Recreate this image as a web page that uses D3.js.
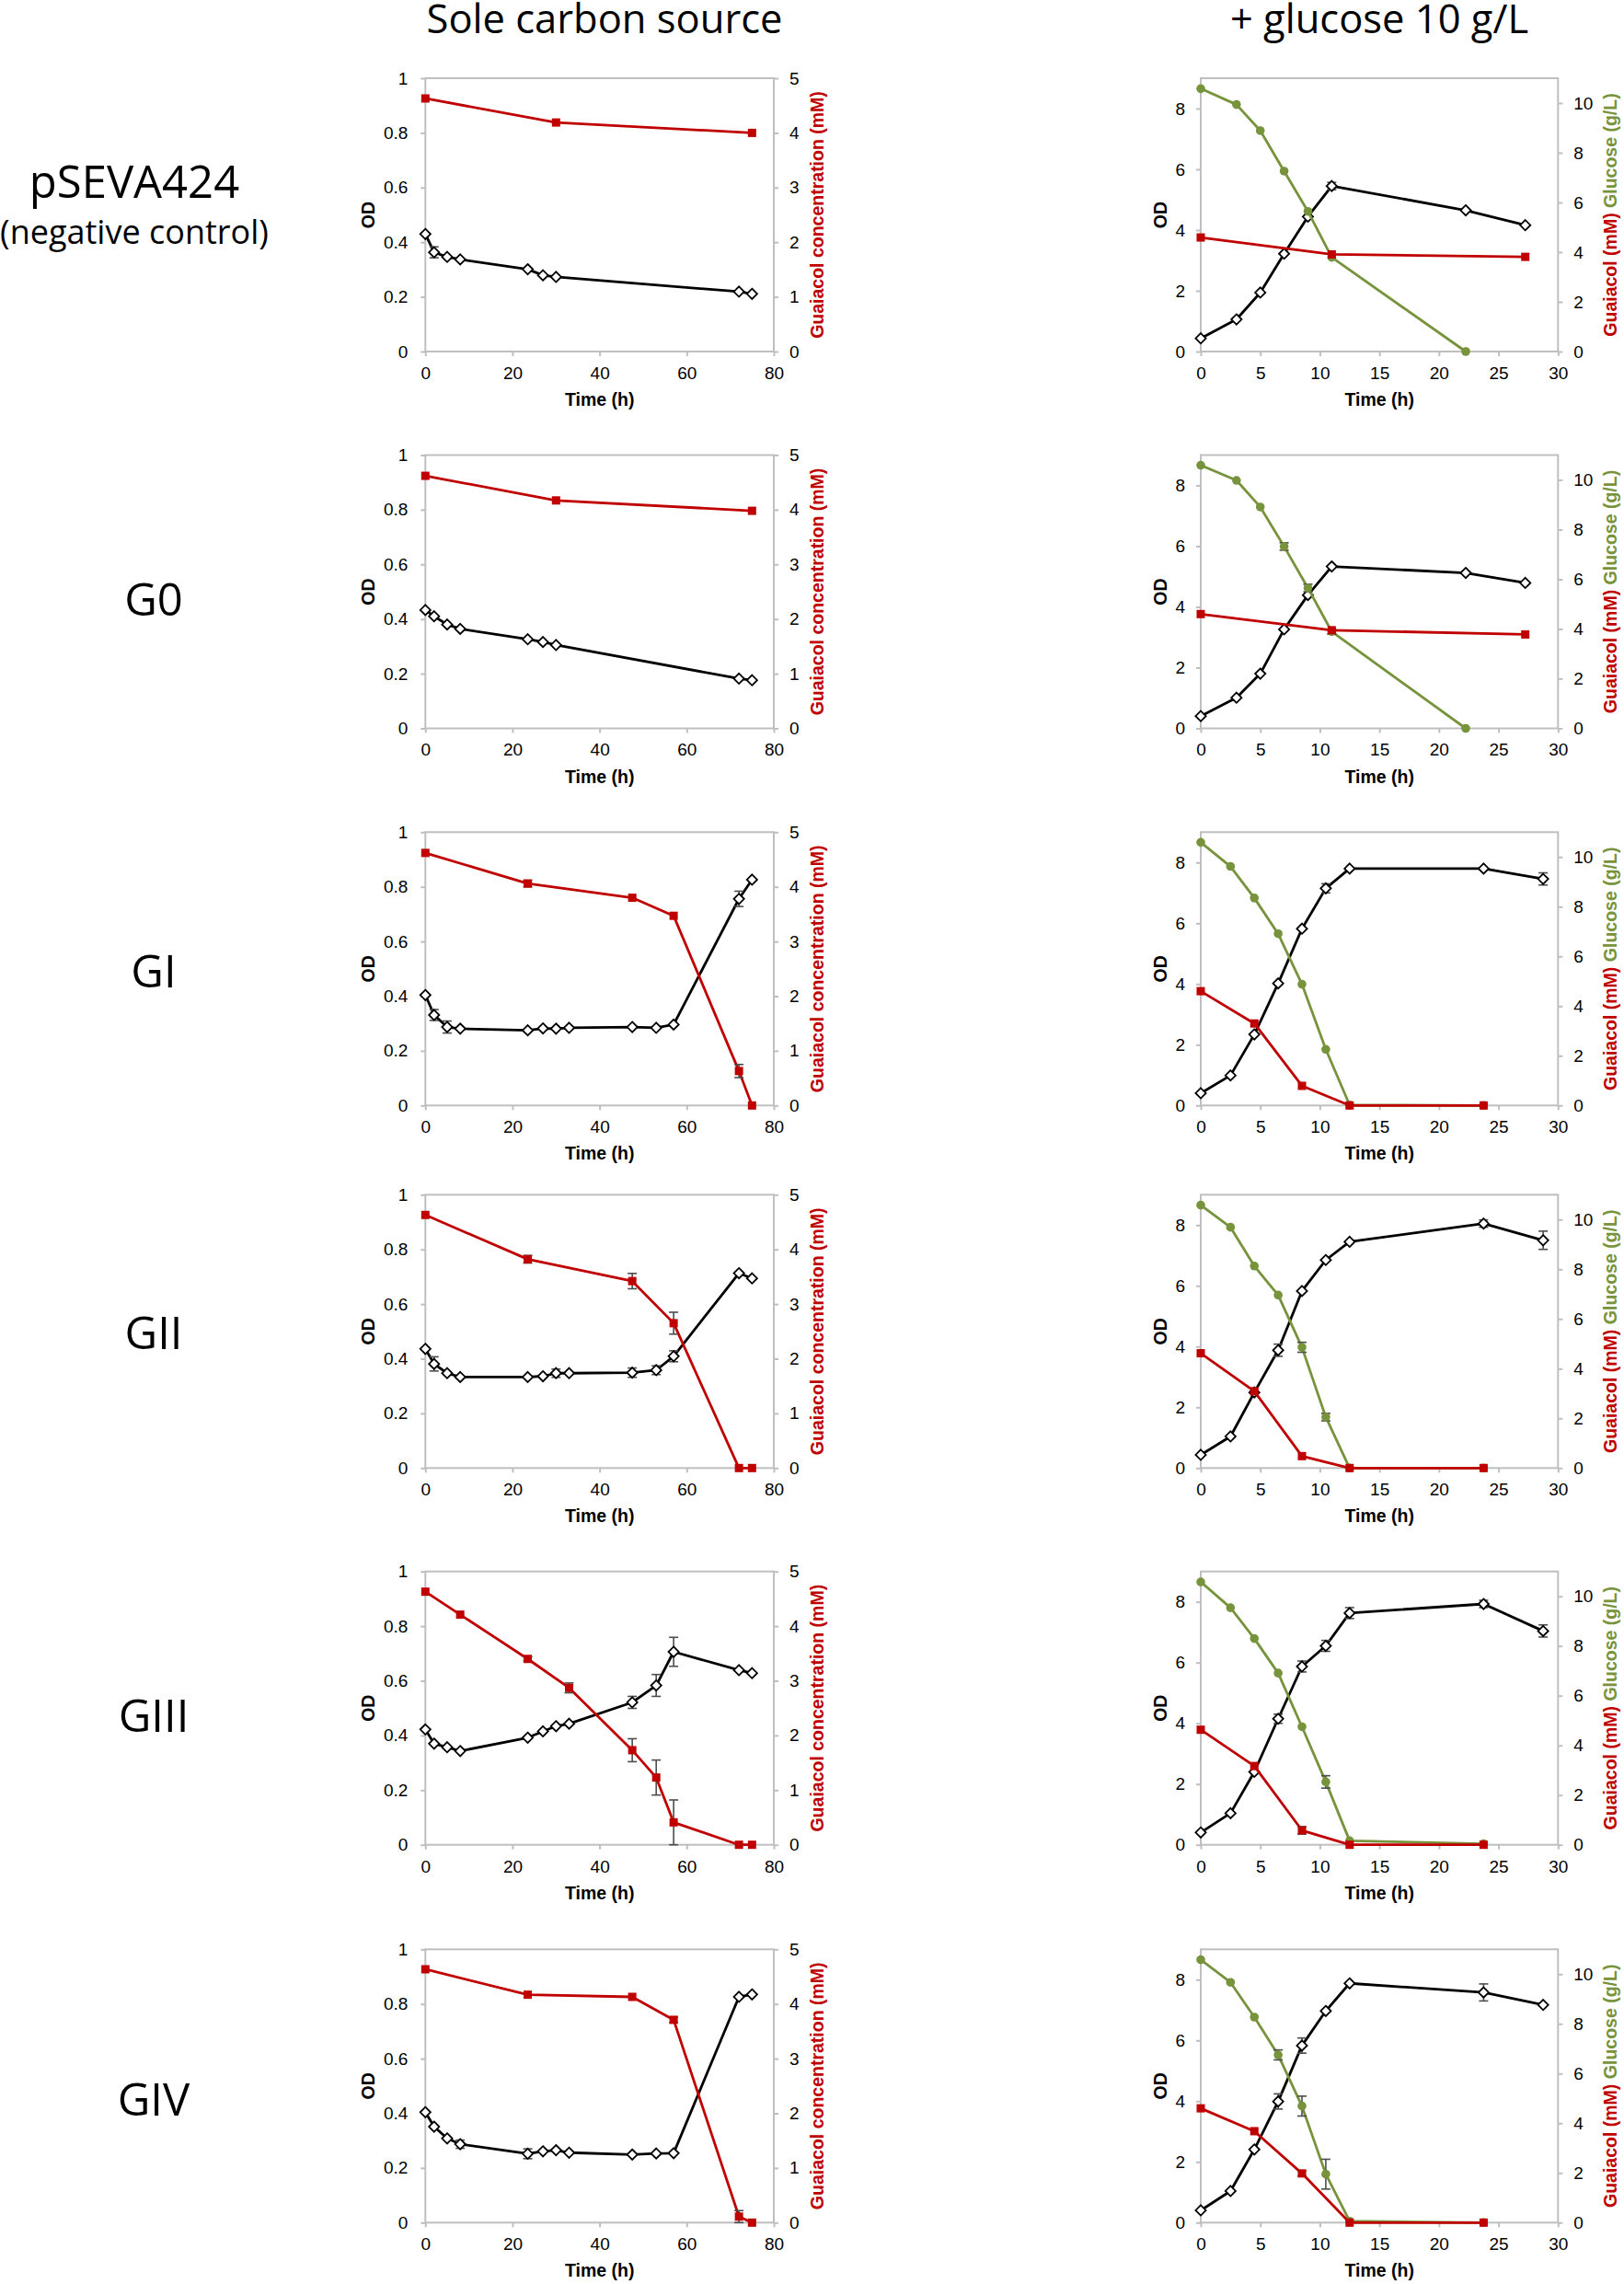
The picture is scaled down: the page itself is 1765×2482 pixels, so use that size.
<!DOCTYPE html>
<html><head><meta charset="utf-8">
<script src="https://cdn.jsdelivr.net/npm/d3@7"></script>
<style>html,body{margin:0;padding:0;background:#fff}</style>
</head><body>
<svg id="c" width="1765" height="2482" xmlns="http://www.w3.org/2000/svg"></svg>
<script>
// ---------------- DATA ----------------
const colTitles = ["Sole carbon source", "+ glucose 10 g/L"];
const rowNames = ["pSEVA424", "G0", "GI", "GII", "GIII", "GIV"];
const rowSubNames = ["(negative control)", "", "", "", "", ""];

// tick labels
const soleOdTicks = [0, 0.2, 0.4, 0.6, 0.8, 1];
const soleGuaTicks = [0, 1, 2, 3, 4, 5];
const soleTimeTicks = [0, 20, 40, 60, 80];
const gluOdTicks = [0, 2, 4, 6, 8];
const gluRightTicks = [0, 2, 4, 6, 8, 10];
const gluTimeTicks = [0, 5, 10, 15, 20, 25, 30];

// time points (h)
const tSoleOdShort = [0, 2, 5, 8, 23.5, 27, 30, 72, 75];
const tSoleOdLong = [0, 2, 5, 8, 23.5, 27, 30, 33, 47.5, 53, 57, 72, 75];
const tSoleGuaShort = [0, 30, 75];
const tSoleGuaLong = [0, 23.5, 47.5, 57, 72, 75];
const tSoleGuaGIII = [0, 8, 23.5, 33, 47.5, 53, 57, 72, 75];
const tGluOdA = [0, 3, 5, 7, 9, 11, 22.25, 27.25];
const tGluGlcA = [0, 3, 5, 7, 9, 11, 22.25];
const tGluGuaA = [0, 11, 27.25];
const tGluOdB = [0, 2.5, 4.5, 6.5, 8.5, 10.5, 12.5, 23.75, 28.75];
const tGluGlcB = [0, 2.5, 4.5, 6.5, 8.5, 10.5, 12.5, 23.75];
const tGluGuaB = [0, 4.5, 8.5, 12.5, 23.75];

// --- Sole carbon source: OD and guaiacol (mM) ---
const pseva_sole_od     = [0.430, 0.363, 0.346, 0.337, 0.301, 0.279, 0.273, 0.219, 0.211];
const pseva_sole_od_err = [0, 0.02, 0, 0, 0, 0, 0, 0, 0];
const pseva_sole_gua    = [4.63, 4.19, 4.00];

const g0_sole_od     = [0.433, 0.410, 0.380, 0.364, 0.326, 0.316, 0.305, 0.182, 0.176];
const g0_sole_od_err = [0, 0, 0, 0, 0, 0, 0, 0, 0];
const g0_sole_gua    = [4.62, 4.17, 3.98];

const gI_sole_od      = [0.404, 0.331, 0.287, 0.281, 0.275, 0.282, 0.281, 0.284, 0.287, 0.284, 0.296, 0.756, 0.826];
const gI_sole_od_err  = [0, 0.02, 0.022, 0, 0, 0, 0, 0, 0, 0, 0, 0.028, 0];
const gI_sole_gua     = [4.62, 4.06, 3.80, 3.47, 0.63, 0];
const gI_sole_gua_err = [0, 0.06, 0, 0, 0.12, 0];

const gII_sole_od      = [0.436, 0.381, 0.347, 0.333, 0.333, 0.336, 0.347, 0.347, 0.349, 0.358, 0.409, 0.713, 0.694];
const gII_sole_od_err  = [0, 0.026, 0, 0, 0, 0, 0.015, 0, 0.017, 0.016, 0.02, 0, 0];
const gII_sole_gua     = [4.63, 3.82, 3.42, 2.65, 0, 0];
const gII_sole_gua_err = [0, 0.07, 0.14, 0.2, 0, 0];

const gIII_sole_od      = [0.422, 0.370, 0.357, 0.343, 0.392, 0.415, 0.434, 0.443, 0.521, 0.583, 0.706, 0.639, 0.628];
const gIII_sole_od_err  = [0, 0, 0, 0, 0, 0, 0, 0, 0.022, 0.04, 0.053, 0, 0];
const gIII_sole_gua     = [4.63, 4.21, 3.40, 2.87, 1.73, 1.23, 0.41, 0, 0];
const gIII_sole_gua_err = [0, 0, 0.04, 0.09, 0.21, 0.32, 0.41, 0, 0];

const gIV_sole_od      = [0.404, 0.351, 0.308, 0.287, 0.252, 0.261, 0.265, 0.256, 0.249, 0.253, 0.254, 0.826, 0.835];
const gIV_sole_od_err  = [0, 0, 0, 0.015, 0.018, 0, 0, 0, 0, 0, 0, 0, 0];
const gIV_sole_gua     = [4.635, 4.17, 4.13, 3.71, 0.11, 0];
const gIV_sole_gua_err = [0, 0, 0, 0.05, 0.11, 0];

// --- + glucose 10 g/L: OD, glucose (g/L), guaiacol (mM) ---
const pseva_glu_od      = [0.434, 1.06, 1.94, 3.22, 4.44, 5.45, 4.65, 4.16];
const pseva_glu_od_err  = [0, 0, 0, 0, 0, 0.12, 0, 0];
const pseva_glu_glc     = [10.58, 9.94, 8.89, 7.26, 5.64, 3.79, 0];
const pseva_glu_glc_err = [0, 0, 0, 0, 0, 0, 0];
const pseva_glu_gua     = [4.59, 3.91, 3.81];

const g0_glu_od      = [0.404, 1.01, 1.80, 3.26, 4.39, 5.33, 5.12, 4.79];
const g0_glu_od_err  = [0, 0, 0, 0, 0, 0, 0, 0];
const g0_glu_glc     = [10.59, 9.98, 8.91, 7.32, 5.65, 3.89, 0];
const g0_glu_glc_err = [0, 0, 0, 0.15, 0.15, 0.1, 0];
const g0_glu_gua     = [4.60, 3.95, 3.78];

const gI_glu_od      = [0.404, 0.99, 2.34, 4.02, 5.82, 7.15, 7.80, 7.80, 7.46];
const gI_glu_od_err  = [0, 0, 0, 0, 0, 0.15, 0, 0, 0.2];
const gI_glu_glc     = [10.59, 9.62, 8.35, 6.91, 4.88, 2.26, 0.02, 0];
const gI_glu_glc_err = [0, 0, 0, 0, 0, 0, 0, 0];
const gI_glu_gua     = [4.60, 3.30, 0.79, 0, 0];

const gII_glu_od      = [0.435, 1.04, 2.49, 3.88, 5.83, 6.85, 7.45, 8.05, 7.50];
const gII_glu_od_err  = [0, 0, 0, 0.2, 0, 0, 0, 0.12, 0.3];
const gII_glu_glc     = [10.58, 9.69, 8.13, 6.96, 4.86, 2.05, 0, 0];
const gII_glu_glc_err = [0, 0, 0, 0, 0.2, 0.15, 0, 0];
const gII_glu_gua     = [4.62, 3.09, 0.48, 0, 0];

const gIII_glu_od      = [0.405, 1.04, 2.40, 4.15, 5.87, 6.55, 7.63, 7.93, 7.04];
const gIII_glu_od_err  = [0, 0, 0, 0.15, 0.18, 0.18, 0.18, 0.12, 0.2];
const gIII_glu_glc     = [10.58, 9.54, 8.30, 6.91, 4.75, 2.53, 0.16, 0.04];
const gIII_glu_glc_err = [0, 0, 0, 0, 0, 0.25, 0, 0];
const gIII_glu_gua     = [4.63, 3.17, 0.58, 0, 0];
const gIII_glu_gua_err = [0, 0, 0.15, 0, 0];

const gIV_glu_od      = [0.404, 1.04, 2.41, 3.99, 5.83, 6.97, 7.88, 7.58, 7.17];
const gIV_glu_od_err  = [0, 0, 0, 0.25, 0.25, 0, 0, 0.28, 0];
const gIV_glu_glc     = [10.58, 9.67, 8.27, 6.75, 4.69, 1.95, 0.06, 0];
const gIV_glu_glc_err = [0, 0, 0, 0.2, 0.4, 0.6, 0, 0];
const gIV_glu_gua     = [4.60, 3.68, 1.98, 0, 0];
const gIV_glu_gua_err = [0, 0, 0.1, 0, 0];

// ---------------- LAYOUT / STYLE ----------------
const W = 1765, H = 2482;
const ROW_TOP = [85, 494.5, 904.3, 1298.3, 1707.7, 2118.3];
const PLOT_H = 297;
const COL_X = [{x0: 462.3, x1: 841}, {x0: 1305, x1: 1693.3}];
const LABEL_BASE = [[215, 265], [669], [1073], [1466], [1882], [2299]];
const RED = "#c00000", GREEN = "#77933c", GRID = "#bfbfbf", ERR = "#4d4d4d";
const AX_FONT = "'Liberation Sans', Arial, sans-serif";
const TITLE_FONT = "'Open Sans', 'Noto Sans', sans-serif";

const zip = (t, v, e) => t.map((tt, i) => ({t: tt, v: v[i], e: e ? e[i] : 0}));

const soleRows = [
  {od: zip(tSoleOdShort, pseva_sole_od, pseva_sole_od_err), gua: zip(tSoleGuaShort, pseva_sole_gua)},
  {od: zip(tSoleOdShort, g0_sole_od, g0_sole_od_err), gua: zip(tSoleGuaShort, g0_sole_gua)},
  {od: zip(tSoleOdLong, gI_sole_od, gI_sole_od_err), gua: zip(tSoleGuaLong, gI_sole_gua, gI_sole_gua_err)},
  {od: zip(tSoleOdLong, gII_sole_od, gII_sole_od_err), gua: zip(tSoleGuaLong, gII_sole_gua, gII_sole_gua_err)},
  {od: zip(tSoleOdLong, gIII_sole_od, gIII_sole_od_err), gua: zip(tSoleGuaGIII, gIII_sole_gua, gIII_sole_gua_err)},
  {od: zip(tSoleOdLong, gIV_sole_od, gIV_sole_od_err), gua: zip(tSoleGuaLong, gIV_sole_gua, gIV_sole_gua_err)}
];
const gluRows = [
  {od: zip(tGluOdA, pseva_glu_od, pseva_glu_od_err), glc: zip(tGluGlcA, pseva_glu_glc, pseva_glu_glc_err), gua: zip(tGluGuaA, pseva_glu_gua)},
  {od: zip(tGluOdA, g0_glu_od, g0_glu_od_err), glc: zip(tGluGlcA, g0_glu_glc, g0_glu_glc_err), gua: zip(tGluGuaA, g0_glu_gua)},
  {od: zip(tGluOdB, gI_glu_od, gI_glu_od_err), glc: zip(tGluGlcB, gI_glu_glc, gI_glu_glc_err), gua: zip(tGluGuaB, gI_glu_gua)},
  {od: zip(tGluOdB, gII_glu_od, gII_glu_od_err), glc: zip(tGluGlcB, gII_glu_glc, gII_glu_glc_err), gua: zip(tGluGuaB, gII_glu_gua)},
  {od: zip(tGluOdB, gIII_glu_od, gIII_glu_od_err), glc: zip(tGluGlcB, gIII_glu_glc, gIII_glu_glc_err), gua: zip(tGluGuaB, gIII_glu_gua, gIII_glu_gua_err)},
  {od: zip(tGluOdB, gIV_glu_od, gIV_glu_od_err), glc: zip(tGluGlcB, gIV_glu_glc, gIV_glu_glc_err), gua: zip(tGluGuaB, gIV_glu_gua, gIV_glu_gua_err)}
];

// ---------------- DRAW ----------------
const svg = d3.select("#c");
svg.append("rect").attr("width", W).attr("height", H).attr("fill", "#fff");

// column titles
const colCenters = [657, 1499];
colTitles.forEach((t, i) => {
  svg.append("text").attr("x", colCenters[i]).attr("y", 36)
    .attr("text-anchor", "middle").attr("font-family", TITLE_FONT)
    .attr("font-size", 43.5).attr("fill", "#000").text(t);
});

// row labels
rowNames.forEach((n, i) => {
  const cx = i === 0 ? 146 : 167;
  svg.append("text").attr("x", cx).attr("y", LABEL_BASE[i][0])
    .attr("text-anchor", "middle").attr("font-family", TITLE_FONT)
    .attr("font-size", 49).attr("fill", "#000").text(n);
  if (rowSubNames[i]) {
    svg.append("text").attr("x", 146).attr("y", LABEL_BASE[i][1])
      .attr("text-anchor", "middle").attr("font-family", TITLE_FONT)
      .attr("font-size", 36).attr("fill", "#000").text(rowSubNames[i]);
  }
});

function styleAxis(g) {
  g.select(".domain").remove();
  g.selectAll(".tick line").attr("stroke", GRID).attr("stroke-width", 2);
  g.selectAll(".tick text").attr("font-family", AX_FONT).attr("font-size", 19).attr("fill", "#000");
}

const diamond = r => `M0,${-r}L${r},0L0,${r}L${-r},0Z`;

function drawSeries(g, data, x, y, opt) {
  const line = d3.line().x(d => x(d.t)).y(d => y(d.v));
  g.append("path").datum(data).attr("d", line)
    .attr("fill", "none").attr("stroke", opt.color).attr("stroke-width", 2.8)
    .attr("stroke-linejoin", "round");
  // error bars
  const eb = g.append("g").attr("stroke", ERR).attr("stroke-width", 1.6);
  data.filter(d => d.e > 0).forEach(d => {
    const cx = x(d.t), ya = y(d.v + d.e), yb = y(Math.max(0, d.v - d.e));
    eb.append("line").attr("x1", cx).attr("x2", cx).attr("y1", ya).attr("y2", yb);
    eb.append("line").attr("x1", cx - 5).attr("x2", cx + 5).attr("y1", ya).attr("y2", ya);
    eb.append("line").attr("x1", cx - 5).attr("x2", cx + 5).attr("y1", yb).attr("y2", yb);
  });
  const m = g.append("g");
  data.forEach(d => {
    const cx = x(d.t), cy = y(d.v);
    if (opt.marker === "diamond") {
      m.append("path").attr("d", diamond(5.6)).attr("transform", `translate(${cx},${cy})`)
        .attr("fill", "#fff").attr("stroke", "#000").attr("stroke-width", 1.8);
    } else if (opt.marker === "square") {
      m.append("rect").attr("x", cx - 4.5).attr("y", cy - 4.5).attr("width", 9).attr("height", 9)
        .attr("fill", opt.color);
    } else {
      m.append("circle").attr("cx", cx).attr("cy", cy).attr("r", 4.8).attr("fill", opt.color);
    }
  });
}

function drawFrame(g, x0, x1, top, bottom) {
  g.append("rect").attr("x", x0).attr("y", top).attr("width", x1 - x0).attr("height", bottom - top)
    .attr("fill", "none").attr("stroke", GRID).attr("stroke-width", 2);
}

function rotatedLabel(g, x, y, parts, anchor) {
  const t = g.append("text").attr("transform", `translate(${x},${y}) rotate(-90)`)
    .attr("text-anchor", anchor || "middle").attr("font-family", AX_FONT)
    .attr("font-weight", "bold").attr("font-size", 19.5);
  parts.forEach(p => t.append("tspan").attr("fill", p.c).text(p.s));
}

for (let r = 0; r < 6; r++) {
  const top = ROW_TOP[r], bottom = top + PLOT_H, cy = (top + bottom) / 2;

  // ---- left panel: sole carbon source ----
  {
    const {x0, x1} = COL_X[0];
    const g = svg.append("g");
    const x = d3.scaleLinear().domain([0, 80]).range([x0, x1]);
    const yOd = d3.scaleLinear().domain([0, 1]).range([bottom, top]);
    const yGua = d3.scaleLinear().domain([0, 5]).range([bottom, top]);
    drawFrame(g, x0, x1, top, bottom);
    g.append("g").attr("transform", `translate(${x0},0)`)
      .call(d3.axisLeft(yOd).tickValues(soleOdTicks).tickFormat(d3.format("~g")).tickSize(5).tickPadding(14).tickSizeOuter(0))
      .call(styleAxis);
    g.append("g").attr("transform", `translate(${x1},0)`)
      .call(d3.axisRight(yGua).tickValues(soleGuaTicks).tickFormat(d3.format("d")).tickSize(5).tickPadding(12).tickSizeOuter(0))
      .call(styleAxis);
    g.append("g").attr("transform", `translate(0,${bottom})`)
      .call(d3.axisBottom(x).tickValues(soleTimeTicks).tickFormat(d3.format("d")).tickSize(5).tickPadding(11.5).tickSizeOuter(0))
      .call(styleAxis);
    g.append("text").attr("x", (x0 + x1) / 2).attr("y", bottom + 59).attr("text-anchor", "middle")
      .attr("font-family", AX_FONT).attr("font-weight", "bold").attr("font-size", 19.5).text("Time (h)");
    rotatedLabel(g, x0 - 55, cy, [{s: "OD", c: "#000"}]);
    rotatedLabel(g, x1 + 54, cy, [{s: "Guaiacol concentration (mM)", c: RED}]);
    drawSeries(g, soleRows[r].od, x, yOd, {color: "#000", marker: "diamond"});
    drawSeries(g, soleRows[r].gua, x, yGua, {color: RED, marker: "square"});
  }

  // ---- right panel: + glucose ----
  {
    const {x0, x1} = COL_X[1];
    const g = svg.append("g");
    const x = d3.scaleLinear().domain([0, 30]).range([x0, x1]);
    const yOd = d3.scaleLinear().domain([0, 9]).range([bottom, top]);
    const yR = d3.scaleLinear().domain([0, 11]).range([bottom, top]);
    drawFrame(g, x0, x1, top, bottom);
    g.append("g").attr("transform", `translate(${x0},0)`)
      .call(d3.axisLeft(yOd).tickValues(gluOdTicks).tickFormat(d3.format("d")).tickSize(5).tickPadding(12).tickSizeOuter(0))
      .call(styleAxis);
    g.append("g").attr("transform", `translate(${x1},0)`)
      .call(d3.axisRight(yR).tickValues(gluRightTicks).tickFormat(d3.format("d")).tickSize(5).tickPadding(12).tickSizeOuter(0))
      .call(styleAxis);
    g.append("g").attr("transform", `translate(0,${bottom})`)
      .call(d3.axisBottom(x).tickValues(gluTimeTicks).tickFormat(d3.format("d")).tickSize(5).tickPadding(11.5).tickSizeOuter(0))
      .call(styleAxis);
    g.append("text").attr("x", (x0 + x1) / 2).attr("y", bottom + 59).attr("text-anchor", "middle")
      .attr("font-family", AX_FONT).attr("font-weight", "bold").attr("font-size", 19.5).text("Time (h)");
    rotatedLabel(g, x0 - 37, cy, [{s: "OD", c: "#000"}]);
    rotatedLabel(g, x1 + 64, cy, [{s: "Guaiacol (mM) ", c: RED}, {s: "Glucose (g/L)", c: GREEN}]);
    drawSeries(g, gluRows[r].od, x, yOd, {color: "#000", marker: "diamond"});
    drawSeries(g, gluRows[r].glc, x, yR, {color: GREEN, marker: "circle"});
    drawSeries(g, gluRows[r].gua, x, yR, {color: RED, marker: "square"});
  }
}
</script>
</body></html>
